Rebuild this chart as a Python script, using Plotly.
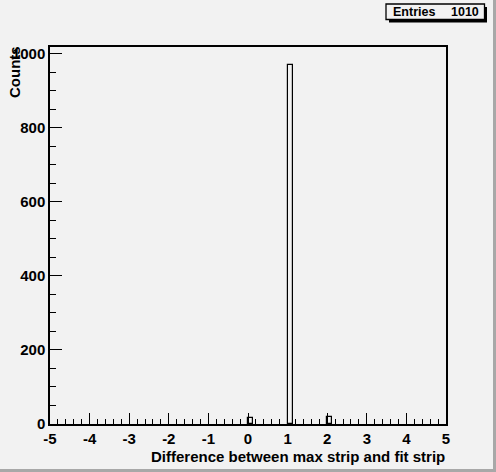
import plotly.graph_objects as go

# ---- data ----
bin_width = 0.125
bin_lows = [0.0, 1.0, 2.0]
counts = [15, 970, 18]
x_ticks = [-5, -4, -3, -2, -1, 0, 1, 2, 3, 4, 5]
y_ticks = [0, 200, 400, 600, 800, 1000]
entries = 1010
x_title = "Difference between max strip and fit strip"
y_title = "Counts"

W, H = 496, 472
L, R, T, B = 50, 446, 47, 424  # plot area in px
BG = "#f2f2f2"
FONT = "Liberation Sans"


def px(x):
    return (x - L) / (R - L)


def py(y):
    return (B - y) / (B - T)


centers = [lo + bin_width / 2 for lo in bin_lows]

fig = go.Figure()
fig.add_trace(go.Bar(
    x=centers, y=counts, width=bin_width,
    marker=dict(color="rgba(0,0,0,0)", line=dict(color="black", width=1.2)),
    showlegend=False, hoverinfo="x+y",
))

ymax = max(counts) * 1.05

fig.update_layout(
    width=W, height=H,
    margin=dict(l=L, r=W - R, t=T, b=H - B, pad=0),
    paper_bgcolor=BG, plot_bgcolor=BG,
    font=dict(family=FONT, size=15, color="black"),
    bargap=0,
    xaxis=dict(
        range=[-5, 5], tickvals=x_ticks, ticktext=[str(v) for v in x_ticks],
        ticks="inside", ticklen=11, tickwidth=1, tickcolor="black",
        minor=dict(dtick=0.2, tick0=-5, ticks="inside", ticklen=5, tickcolor="black", tickwidth=1),
        showline=True, linecolor="black", linewidth=1.5, mirror=True,
        showgrid=False, zeroline=False,
        tickfont=dict(family=FONT, size=15, weight="bold"),
    ),
    yaxis=dict(
        range=[0, ymax], tickvals=y_ticks, ticktext=[str(v) for v in y_ticks],
        ticks="inside", ticklen=12, tickwidth=1, tickcolor="black",
        minor=dict(dtick=50, tick0=0, ticks="inside", ticklen=6, tickcolor="black", tickwidth=1),
        showline=True, linecolor="black", linewidth=1.5, mirror=True,
        showgrid=False, zeroline=False,
        tickfont=dict(family=FONT, size=15, weight="bold"),
    ),
)

shapes = []
# canvas border shadow (right and bottom)
shapes.append(dict(type="rect", xref="paper", yref="paper", x0=px(493), x1=px(497), y0=py(473), y1=py(-1),
                   fillcolor="#a8a8a8", line=dict(width=0), layer="above"))
shapes.append(dict(type="rect", xref="paper", yref="paper", x0=px(-1), x1=px(497), y0=py(473), y1=py(469),
                   fillcolor="#a8a8a8", line=dict(width=0), layer="above"))
# stats box shadow + box
shapes.append(dict(type="rect", xref="paper", yref="paper", x0=px(389), x1=px(487), y0=py(22.5), y1=py(7),
                   fillcolor="black", line=dict(width=0), layer="above"))
shapes.append(dict(type="rect", xref="paper", yref="paper", x0=px(386), x1=px(484.5), y0=py(19.5), y1=py(4),
                   fillcolor=BG, line=dict(color="black", width=1.3), layer="above"))
fig.update_layout(shapes=shapes)

annotations = [
    dict(text="<b>Entries</b>", xref="paper", yref="paper", x=px(391), y=py(12), xanchor="left", yanchor="middle",
         showarrow=False, font=dict(family=FONT, size=12.5)),
    dict(text=f"<b>{entries}</b>", xref="paper", yref="paper", x=px(481), y=py(12), xanchor="right", yanchor="middle",
         showarrow=False, font=dict(family=FONT, size=12.5)),
    dict(text=f"<b>{x_title}</b>", xref="paper", yref="paper", x=px(447), y=py(457), xanchor="right", yanchor="middle",
         showarrow=False, font=dict(family=FONT, size=15)),
    dict(text=f"<b>{y_title}</b>", xref="paper", yref="paper", x=px(15), y=py(44), xanchor="center", yanchor="top",
         textangle=-90, showarrow=False, font=dict(family=FONT, size=15)),
]
fig.update_layout(annotations=annotations)

fig.write_html("out.html", config={"displayModeBar": False},
               post_script="document.body.style.margin='0';document.body.style.padding='0';")
